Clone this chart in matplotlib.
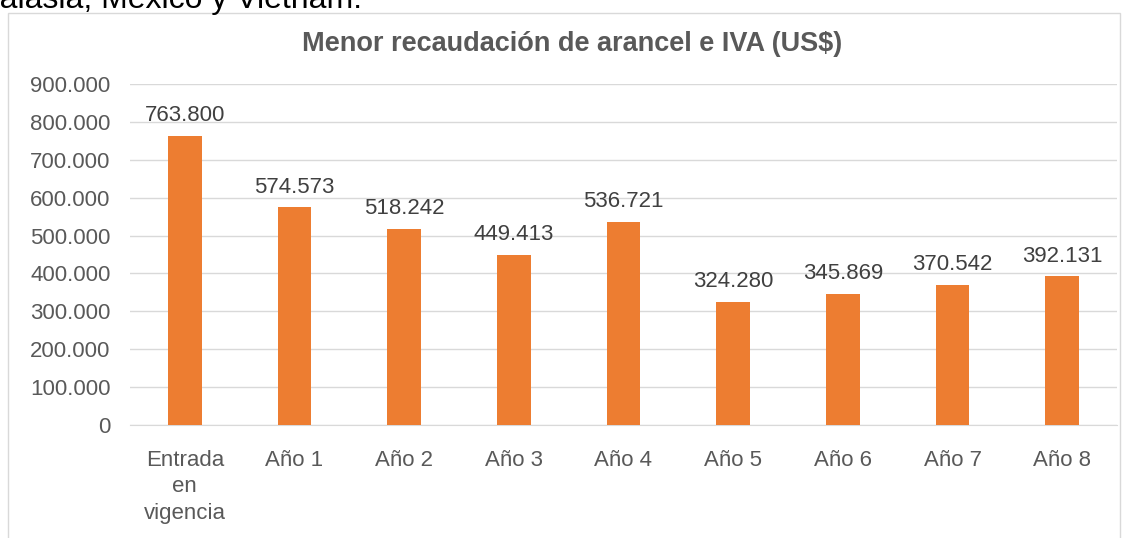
import matplotlib
matplotlib.use("Agg")
import matplotlib.pyplot as plt
from matplotlib.patches import Rectangle

categories = ["Entrada\nen\nvigencia", "Año 1", "Año 2", "Año 3", "Año 4",
              "Año 5", "Año 6", "Año 7", "Año 8"]
values = [763800, 574573, 518242, 449413, 536721, 324280, 345869, 370542, 392131]
value_labels = ["763.800", "574.573", "518.242", "449.413", "536.721",
                "324.280", "345.869", "370.542", "392.131"]
yticks = [0, 100000, 200000, 300000, 400000, 500000, 600000, 700000, 800000, 900000]
ytick_labels = ["0", "100.000", "200.000", "300.000", "400.000", "500.000",
                "600.000", "700.000", "800.000", "900.000"]
title = "Menor recaudación de arancel e IVA (US$)"

plt.rcParams['font.family'] = ['Liberation Sans', 'DejaVu Sans']
W, H = 1123, 538
fig = plt.figure(figsize=(W / 100, H / 100), dpi=100)

# chart frame
fig.patches.append(Rectangle((8 / W, -0.1), (1120 - 8) / W, 1.1 - 13 / H,
                             transform=fig.transFigure, fill=False,
                             edgecolor="#d9d9d9", linewidth=1))
# clipped preceding text
fig.text(-27 / W, 1 - 8 / H, "Malasia, México y Vietnam.", fontsize=23,
         color="black", ha="left", va="baseline")

ax = fig.add_axes([130 / W, 1 - 425 / H, (1117 - 130) / W, (425 - 84) / H])
x = list(range(len(categories)))
ax.bar(x, values, width=0.31, color="#ED7D31", zorder=3)
for xi, v, lab in zip(x, values, value_labels):
    ax.annotate(lab, (xi, v), xytext=(0, 7), textcoords="offset points",
                ha="center", va="bottom", fontsize=16, color="#404040")

ax.set_xlim(-0.5, len(categories) - 0.5)
ax.set_ylim(0, 900000)
ax.set_yticks(yticks)
ax.set_yticklabels(ytick_labels)
ax.set_xticks(x)
ax.set_xticklabels(categories, linespacing=1.33)
ax.tick_params(axis="both", length=0, labelsize=16, labelcolor="#595959")
ax.tick_params(axis="y", pad=14)
ax.tick_params(axis="x", pad=18)
ax.grid(axis="y", color="#d9d9d9", linewidth=1, zorder=0)
for s in ax.spines.values():
    s.set_visible(False)
ax.spines["bottom"].set_visible(True)
ax.spines["bottom"].set_color("#d9d9d9")

fig.text(572 / W, 1 - 44 / H, title, fontsize=19.5, fontweight="bold",
         color="#595959", ha="center", va="center")

fig.savefig("out.png", dpi=100)
